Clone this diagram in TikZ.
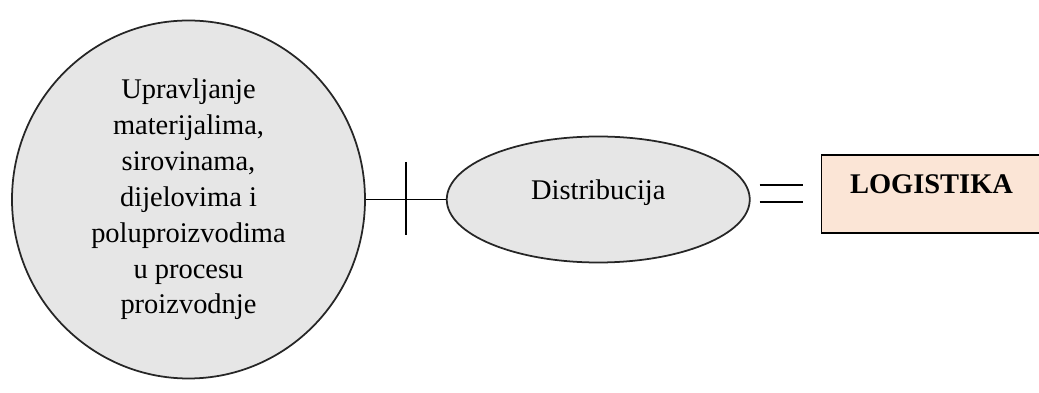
\documentclass[tikz,border=0pt]{standalone}
\usepackage{fontspec}
\setmainfont{Liberation Serif}
\usepackage{xcolor}
\usetikzlibrary{calc}
\usetikzlibrary{positioning}
\usetikzlibrary{shapes.geometric}
\definecolor{ovalgray}{RGB}{230,230,230}
\definecolor{peach}{RGB}{251,229,214}

\begin{document}
\begin{tikzpicture}[-, draw=black, line width=1pt, font=\fontsize{16.2}{20.4}\selectfont]
    \tikzstyle{oval}=[ellipse,draw=black!85,fill=ovalgray,inner sep=0pt,align=center]
    \tikzstyle{box}=[draw=black,rectangle,fill=peach,minimum width=4.4cm,minimum height=1.56cm,inner sep=0pt,font=\fontsize{16.2}{20.4}\selectfont\bfseries]
    \useasboundingbox (0,0) rectangle (20.78,-7.86);

    \node[oval, minimum width=7.06cm, minimum height=7.16cm] (mat) at (3.77,-3.99) {Upravljanje\\ materijalima,\\ sirovinama,\\ dijelovima i\\ poluproizvodima\\ u procesu\\ proizvodnje};
    \node[oval, right=1.6cm of mat, minimum width=6.06cm, minimum height=2.52cm, text height=8pt, text depth=8pt] (distr) {Distribucija};
    \node[box, right=1.4cm of distr, yshift=0.11cm, text height=8pt, text depth=8pt] (logi) {LOGISTIKA};

    % plus between the two ovals
    \path (mat) edge (distr);
    \coordinate (plus) at ($(mat.east)!0.5!(distr.west)$);
    \coordinate[above=0.75cm of plus] (plustop);
    \coordinate[below=0.71cm of plus] (plusbot);
    \path (plustop) edge (plusbot);

    % equals sign
    \coordinate[right=0.18cm of distr.east, yshift=0.29cm] (eqa1);
    \coordinate[right=0.86cm of eqa1] (eqa2);
    \coordinate[below=0.34cm of eqa1] (eqb1);
    \coordinate[below=0.34cm of eqa2] (eqb2);
    \path (eqa1) edge (eqa2);
    \path (eqb1) edge (eqb2);
\end{tikzpicture}
\end{document}
